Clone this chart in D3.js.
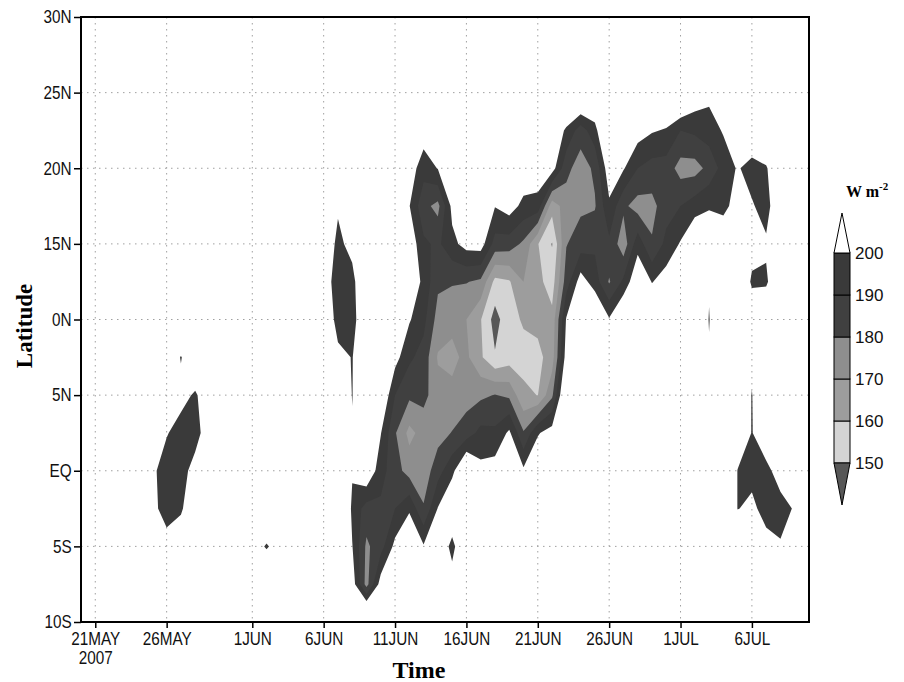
<!DOCTYPE html>
<html>
<head>
<meta charset="utf-8">
<script src="https://cdn.jsdelivr.net/npm/d3@7"></script>
<style>
  body { margin: 0; background: #fff; }
  svg { display: block; }
</style>
</head>
<body>
<svg id="chart" width="904" height="682"></svg>
<script>
// OLR (W m-2), one row per latitude, one value per day from 21 May to 10 Jul 2007
const lat30   = [230,230,230,230,230,230,230,230,230,230, 230,230,230,230,230,230,230,230,230,230, 230,230,230,230,230,230,230,230,230,230, 230,230,230,230,230,230,230,230,230,230, 230,230,230,230,230,230,230,230,230,230, 230];
const lat27_5 = [230,230,230,230,230,230,230,230,230,230, 230,230,230,230,230,230,230,230,230,230, 230,230,230,230,230,230,230,230,230,230, 230,230,230,230,230,230,230,230,230,230, 230,230,230,230,230,230,230,230,230,230, 230];
const lat25   = [230,230,230,230,230,230,230,230,230,230, 230,230,230,230,230,230,230,230,230,230, 230,230,230,230,230,230,230,230,230,230, 230,230,220,220,220,215,230,230,230,215, 215,220,208,203,215,230,230,230,230,230, 230];
const lat22_5 = [230,230,230,230,230,230,230,230,230,230, 230,230,230,230,230,230,230,230,230,230, 230,230,220,206,212,230,230,230,230,230, 230,230,210,198,185,196,220,215,205,201, 199,190,192,195,201,210,210,212,230,230, 230];
const lat20   = [230,230,230,230,230,230,230,230,230,230, 230,230,230,230,230,230,230,230,230,230, 230,230,206,194,200.5,215,230,230,212,220, 208,207,205,183,175,182,207,201,190,186, 185.5,176,176,183,194,201,196,199,210,230, 230];
const lat17_5 = [230,230,230,230,230,230,230,230,230,230, 230,230,230,230,230,230,230,201.5,215,230, 230,230,200.5,183,177,203,220,220,200.5,205, 197,196,164,175,178,179,198,182,176,177, 185.6,190,195,199,198,203,201,196,210,230, 230];
const lat15   = [230,230,230,230,230,230,230,230,230,230, 230,230,230,230,230,230,210,197,204,220, 230,230,208,192,188,197,204,205,186,185, 178,160.5,149.5,179.5,185,188,188,174,196,181, 193,201,212,208,206,215,205,201.5,210,230, 230];
const lat12_5 = [230,230,230,230,230,230,230,230,230,230, 230,230,230,230,230,230,208,193,196,215, 230,230,210,197,182,181,180.5,178,157,159, 170,163,155,185,205,195,179,192,210,199.5, 205,215,225,201,225,215,198,198.5,210,230, 230];
const lat10   = [230,230,230,230,230,230,230,230,230,230, 230,230,230,230,230,230,215,194,194,215, 230,220,201,193,176,172,170,160.5,146,157, 161,163,163,201,220,215,201,215,225,212, 225,230,212,199.5,212,230,210,210,230,230, 230];
const lat7_5  = [230,230,230,230,230,215,199,215,230,230, 230,230,230,230,230,230,230,204,199.5,212, 225,204,192,186,169,168,172,161.5,151,155, 157,157,165,205,225,230,215,230,230,230, 230,230,230,201,230,230,203,230,230,230, 230];
const lat5    = [230,230,230,230,230,215,205,198,210,230, 230,230,230,230,230,230,230,215,199.6,215, 212,190,182,183,174,172,176,178,180.5,178, 162,159.8,178,217,230,230,230,230,230,230, 230,230,230,230,230,212,199.5,215,230,230, 230];
const lat2_5  = [230,230,230,230,212,201,194,195,208,230, 230,230,230,230,230,230,230,230,201,220, 200.5,181,167,174,176,180.5,185,193,192,202, 181,199,205,225,230,230,230,230,230,230, 230,230,230,230,230,210,199.5,208,215,230, 230];
const lat0    = [230,230,230,230,203,193,195,205,230,230, 230,230,230,230,230,230,230,230,201.5,210, 194,184,176,174,186,197,215,203,205,212, 202,210,215,230,230,230,230,230,230,230, 230,230,230,230,225,199.5,196,197,205,212, 230];
const latS2_5 = [230,230,230,230,204,194,198,212,230,230, 230,230,225,230,230,230,230,230,197,186, 188,190,198,181,200.5,212,220,230,230,230, 230,230,230,230,230,230,230,230,230,230, 230,230,230,230,225,199.5,203,195,196,201, 215];
const latS5   = [230,230,230,230,215,206,210,230,230,230, 230,210,198,210,230,230,230,230,200.5,178, 186,203,215,201,212,196,215,230,230,230, 230,230,230,230,230,230,230,230,230,230, 230,230,230,230,230,220,212,205,201,208, 230];
const latS7_5 = [230,230,230,230,230,230,230,230,230,230, 230,230,225,230,230,230,230,230,206,176, 205,225,230,230,230,206,230,230,230,230, 230,230,230,230,230,230,230,230,230,230, 230,230,230,230,230,230,230,230,220,230, 230];
const latS10  = [230,230,230,230,230,230,230,230,230,230, 230,230,230,230,230,230,230,230,230,230, 230,230,230,230,230,230,230,230,230,230, 230,230,230,230,230,230,230,230,230,230, 230,230,230,230,230,230,230,230,230,230, 230];

// rows from north to south, and their latitudes
const rows = [lat30, lat27_5, lat25, lat22_5, lat20, lat17_5, lat15, lat12_5, lat10,
              lat7_5, lat5, lat2_5, lat0, latS2_5, latS5, latS7_5, latS10];
const lats = [30, 27.5, 25, 22.5, 20, 17.5, 15, 12.5, 10, 7.5, 5, 2.5, 0, -2.5, -5, -7.5, -10];

// contour levels and shading
const levels = [150, 160, 170, 180, 190, 200];
const shades = ["#d4d4d4", "#9d9d9d", "#8e8e8e", "#404040", "#3a3a3a"]; // 150-160 ... 190-200
const belowColor = "#575757";  // < 150

// axis ticks
const tickDates = ["2007-05-21", "2007-05-26", "2007-06-01", "2007-06-06", "2007-06-11",
                   "2007-06-16", "2007-06-21", "2007-06-26", "2007-07-01", "2007-07-06"];
const tickNames = ["21MAY", "26MAY", "1JUN", "6JUN", "11JUN", "16JUN", "21JUN", "26JUN", "1JUL", "6JUL"];
const latTicks = [-10, -5, 0, 5, 10, 15, 20, 25, 30];
const latNames = ["10S", "5S", "EQ", "5N", "0N", "15N", "20N", "25N", "30N"];

const parse = d3.timeParse("%Y-%m-%d");
const plot = {left: 81, right: 809, top: 17, bottom: 622};

const svg = d3.select("#chart");

const x = d3.scaleTime()
    .domain([parse("2007-05-20"), parse("2007-07-10")])
    .range([plot.left, plot.right]);
const y = d3.scaleLinear()
    .domain([-10, 30])
    .range([plot.bottom, plot.top]);

const nx = rows[0].length, ny = rows.length;
const firstDay = parse("2007-05-21");
// grid index -> screen position
const xi = d3.scaleLinear().domain([0, nx - 1])
    .range([x(firstDay), x(d3.timeDay.offset(firstDay, nx - 1))]);
const yj = d3.scaleLinear().domain([0, ny - 1])
    .range([y(lats[0]), y(lats[ny - 1])]);

// clip
svg.append("defs").append("clipPath").attr("id", "plotClip")
  .append("rect")
    .attr("x", plot.left).attr("y", plot.top)
    .attr("width", plot.right - plot.left).attr("height", plot.bottom - plot.top);

// dotted grid
const grid = svg.append("g").attr("stroke", "#a0a0a0").attr("stroke-width", 1)
    .attr("stroke-dasharray", "1.5,4.5");
grid.selectAll("line.v").data(tickDates).enter().append("line")
    .attr("x1", d => x(parse(d))).attr("x2", d => x(parse(d)))
    .attr("y1", plot.top).attr("y2", plot.bottom);
grid.selectAll("line.h").data(latTicks.slice(1, -1)).enter().append("line")
    .attr("x1", plot.left).attr("x2", plot.right)
    .attr("y1", d => y(d)).attr("y2", d => y(d));

// filled contours: negate so each polygon is the "value <= level" region
const values = [];
rows.forEach(r => r.forEach(v => values.push(-v)));
const bands = d3.contours()
    .size([nx, ny])
    .thresholds(levels.slice().reverse().map(l => -l))(values);

const project = d3.geoTransform({
    point: function(gx, gy) {
        this.stream.point(xi(gx - 0.5), yj(gy - 0.5));
    }
});
const path = d3.geoPath(project);

svg.append("g").attr("clip-path", "url(#plotClip)")
  .selectAll("path")
  .data(bands)
  .enter().append("path")
    .attr("d", path)
    .attr("fill", d => {
        const lev = -d.value;
        return lev === 150 ? belowColor : shades[levels.indexOf(lev) - 1];
    })
    .attr("stroke", "none");

// frame
svg.append("rect")
    .attr("x", plot.left).attr("y", plot.top)
    .attr("width", plot.right - plot.left).attr("height", plot.bottom - plot.top)
    .attr("fill", "none").attr("stroke", "#000").attr("stroke-width", 2);

const tickFont = "'Liberation Sans', Arial, sans-serif";

// x axis
const xAxis = svg.append("g")
    .attr("transform", `translate(0,${plot.bottom})`)
    .call(d3.axisBottom(x)
        .tickValues(tickDates.map(parse))
        .tickFormat((d, i) => tickNames[i])
        .tickSize(6).tickPadding(4));
xAxis.select(".domain").remove();
xAxis.selectAll(".tick line").attr("stroke", "#000").attr("stroke-width", 1.5);
xAxis.selectAll(".tick text")
    .attr("font-family", tickFont).attr("font-size", 18).attr("fill", "#111")
    .attr("transform", "scale(0.85,1)");
xAxis.select(".tick text")
  .append("tspan").attr("x", 0).attr("dy", "1.05em").text("2007");

// y axis
const yAxis = svg.append("g")
    .attr("transform", `translate(${plot.left},0)`)
    .call(d3.axisLeft(y)
        .tickValues(latTicks)
        .tickFormat((d, i) => latNames[i])
        .tickSize(7).tickPadding(4));
yAxis.select(".domain").remove();
yAxis.selectAll(".tick line").attr("stroke", "#000").attr("stroke-width", 1.5);
yAxis.selectAll(".tick text")
    .attr("font-family", tickFont).attr("font-size", 18).attr("fill", "#111")
    .attr("transform", "scale(0.85,1)");

// axis titles
const titleFont = "'Liberation Serif', 'Times New Roman', serif";
svg.append("text")
    .attr("transform", "translate(32,326) rotate(-90)")
    .attr("text-anchor", "middle")
    .attr("font-family", titleFont).attr("font-weight", "bold").attr("font-size", 23)
    .text("Latitude");
svg.append("text")
    .attr("x", 419).attr("y", 678)
    .attr("text-anchor", "middle")
    .attr("font-family", titleFont).attr("font-weight", "bold").attr("font-size", 24)
    .text("Time");

// colour bar
const bar = {x: 834, w: 16};
const ly = d3.scaleLinear().domain([150, 200]).range([463, 253]);
const legend = svg.append("g");

legend.selectAll("rect")
    .data(shades)
    .enter().append("rect")
    .attr("x", bar.x)
    .attr("y", (d, i) => ly(levels[i + 1]))
    .attr("width", bar.w)
    .attr("height", (d, i) => ly(levels[i]) - ly(levels[i + 1]))
    .attr("fill", d => d)
    .attr("stroke", "#000").attr("stroke-width", 1);

legend.append("path")
    .attr("d", `M${bar.x},${ly(200)} L${bar.x + bar.w / 2},${ly(200) - 40} L${bar.x + bar.w},${ly(200)} Z`)
    .attr("fill", "#fff").attr("stroke", "#000").attr("stroke-width", 1);
legend.append("path")
    .attr("d", `M${bar.x},${ly(150)} L${bar.x + bar.w / 2},${ly(150) + 42} L${bar.x + bar.w},${ly(150)} Z`)
    .attr("fill", belowColor).attr("stroke", "#000").attr("stroke-width", 1);

legend.selectAll("text.lab")
    .data(levels)
    .enter().append("text")
    .attr("x", bar.x + bar.w + 5)
    .attr("y", d => ly(d))
    .attr("dy", "0.35em")
    .attr("font-family", tickFont).attr("font-size", 17).attr("fill", "#111")
    .text(d => d);

const unit = svg.append("text")
    .attr("x", 846).attr("y", 197)
    .attr("font-family", titleFont).attr("font-weight", "bold").attr("font-size", 16);
unit.append("tspan").text("W m");
unit.append("tspan").attr("dy", -7).attr("font-size", 11).text("-2");
</script>
</body>
</html>
